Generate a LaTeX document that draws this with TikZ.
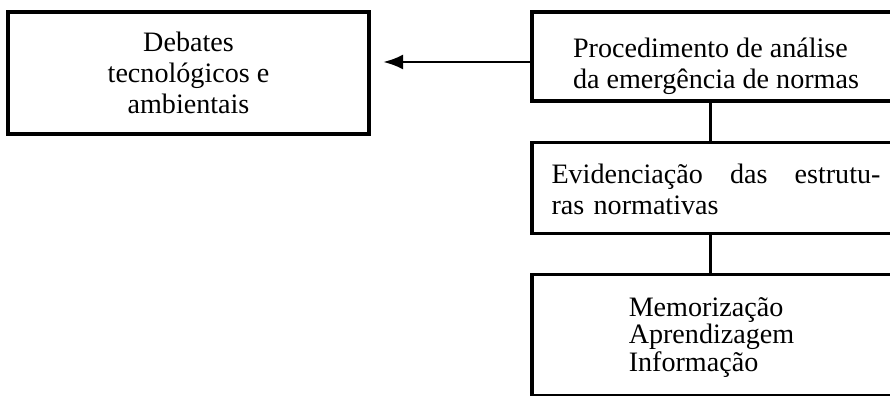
\documentclass[tikz,border=0pt]{standalone}
\usepackage{fontspec}
\setmainfont{Liberation Serif}
\usetikzlibrary{arrows.meta, positioning}
\newcommand{\boxwidth}{7.36cm}
\newcommand{\boxfont}{\fontsize{16}{17.6}\selectfont}
\tikzstyle{block} = [% framed box of the scheme
  rectangle,
  minimum width=\boxwidth,
  inner sep=0pt,
  draw=black,
  line width=1.8pt
  ]
\tikzstyle{boxtext} = [% text set inside a box
  inner sep=0pt,
  font=\boxfont
  ]
\tikzstyle{link} = [% plain connecting line
  line width=1.6pt
  ]
\tikzstyle{arrow} = [% arrow format
  line width=1.6pt,
  -{Latex[length=0.4cm,width=0.3cm]}
  ]

\begin{document}
\begin{tikzpicture}

\useasboundingbox (0,0) rectangle (17.8,-7.92);

%%% Nodes
\node[block, minimum width=7.22cm, minimum height=2.44cm] (debates) at (3.77,-1.46) {};
\node[block, minimum height=1.78cm] (procedimento) at (14.32,-1.13) {};
\node[block, minimum height=1.82cm] (evidenciacao) [below=0.76cm of procedimento] {};
\node[block, minimum height=2.42cm] (memorizacao) [below=0.76cm of evidenciacao] {};

\node[boxtext, align=center] (debatestext) at (debates) {Debates\\tecnológicos e\\ambientais};
\node[boxtext, align=left] (procedimentotext) at ([yshift=-0.19cm]procedimento.center)
  {Procedimento de análise\\da emergência de normas};
\node[boxtext, text width=6.58cm, align=left] (evidenciacaotext) at ([yshift=-0.04cm]evidenciacao.center)
  {\hbox to 6.58cm{Evidenciação\hfill das\hfill estrutu-}\\ras normativas};
\node[boxtext, align=left, font=\fontsize{16}{15.5}\selectfont] (memorizacaotext)
  at ([xshift=-0.09cm, yshift=-0.05cm]memorizacao.center) {Memorização\\Aprendizagem\\Informação};

%%% Arrows
\coordinate (arrowstart) at ([yshift=-0.11cm]procedimento.west);
\draw[arrow, shorten >=0.25cm] (arrowstart) -- (arrowstart -| debates.east);
\draw[link] ([xshift=-0.11cm]procedimento.south) -- ([xshift=-0.11cm]evidenciacao.north);
\draw[link] ([xshift=-0.11cm]evidenciacao.south) -- ([xshift=-0.11cm]memorizacao.north);

\end{tikzpicture}
\end{document}
